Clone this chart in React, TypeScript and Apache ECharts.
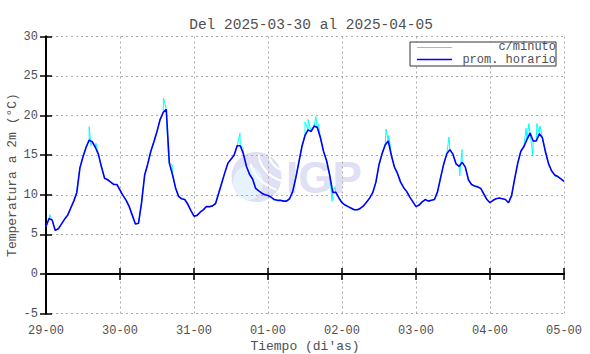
import React, { useEffect, useRef } from "react";
import * as echarts from "echarts";

const titleText = "Del 2025-03-30 al 2025-04-05";
const dayLabels = ["29-00", "30-00", "31-00", "01-00", "02-00", "03-00", "04-00", "05-00"];
const yTicks = [-5, 0, 5, 10, 15, 20, 25, 30];

// hourly average temperature, hour 0 = 29-00
const hourly = [
  6.0, 7.0, 6.8, 5.5, 5.7, 6.3, 6.9, 7.4, 8.3, 9.2,
  10.3, 13.4, 14.8, 16.0, 16.9, 16.7, 16.0, 15.1, 13.5, 12.1,
  11.9, 11.6, 11.3, 11.3, 10.6, 9.9, 9.3, 8.5, 7.4, 6.3,
  6.4, 9.0, 12.5, 13.9, 15.5, 16.7, 18.0, 19.5, 20.4, 20.8,
  14.0, 12.6, 10.9, 9.8, 9.5, 9.4, 8.8, 8.0, 7.3, 7.4,
  7.8, 8.1, 8.5, 8.5, 8.6, 8.9, 10.2, 11.5, 12.8, 14.0,
  14.5, 15.0, 16.2, 16.2, 15.2, 13.6, 12.6, 12.0, 10.8, 10.5,
  10.2, 10.0, 9.9, 9.7, 9.4, 9.3, 9.3, 9.2, 9.2, 9.5,
  10.4, 12.1, 14.1, 16.1, 17.5, 18.2, 18.0, 18.7, 18.5, 17.2,
  15.5, 14.3, 12.5, 10.3, 10.3, 9.6, 9.0, 8.7, 8.5, 8.3,
  8.1, 8.1, 8.3, 8.6, 9.1, 9.6, 10.3, 11.6, 13.8, 15.2,
  16.3, 16.8, 15.0, 13.5, 12.7, 11.6, 10.9, 10.4, 9.7, 9.1,
  8.5, 8.7, 9.1, 9.4, 9.2, 9.3, 9.4, 10.4, 12.2, 13.9,
  15.2, 15.7, 15.1, 13.9, 13.6, 14.1, 13.5, 11.9, 11.3, 11.1,
  11.0, 10.8, 10.1, 9.4, 9.0, 9.3, 9.5, 9.6, 9.5, 9.4,
  9.0, 9.9, 12.0, 14.0, 15.5, 16.1, 17.0, 17.8, 16.8, 16.8,
  17.7, 17.2, 15.4, 13.9, 13.0, 12.5, 12.3, 12.0, 11.7,
];

// per-minute readings that stand out from the hourly average: [hour, value]
const minuteSpikes = [
  [1.2, 7.5], [10.2, 11.2], [14.0, 18.6], [14.6, 16.2], [16.2, 16.5],
  [38.1, 22.2], [38.6, 21.5], [39.6, 15.5], [40.9, 13.8],
  [62.9, 17.8], [63.9, 16.0],
  [84.0, 19.2], [85.0, 19.5], [86.3, 18.4], [87.5, 19.9], [88.4, 18.9],
  [92.8, 9.2], [93.7, 11.0],
  [110.3, 18.3], [111.2, 17.5],
  [130.7, 17.3], [134.2, 12.4], [134.9, 15.7],
  [155.7, 18.4], [156.6, 19.0], [157.9, 15.0], [159.2, 19.0], [160.2, 18.7],
  [165.1, 12.3],
];

const FONT = "Liberation Mono";
const TXT = "#505050";

export default function App() {
  const ref = useRef<HTMLDivElement>(null);
  useEffect(() => {
    if (!ref.current) return;
    const chart = echarts.init(ref.current, null, { renderer: "svg" });
    const hourlyData = hourly.map((v, i) => [i, v]);
    const minuteData = [...hourlyData, ...minuteSpikes].sort((a, b) => a[0] - b[0]);

    const axisLine = { show: true, lineStyle: { color: "#000", width: 2 } };
    const tick = { show: true, inside: true, length: 6, lineStyle: { color: "#000", width: 1.5 } };

    chart.setOption({
      animation: false,
      backgroundColor: "#fff",
      title: {
        text: titleText,
        left: 306,
        textAlign: "center",
        top: 12,
        textStyle: { fontFamily: FONT, fontSize: 14.5, fontWeight: "normal", color: TXT },
      },
      grid: { left: 46, right: 26, top: 36.5, bottom: 40.5, containLabel: false, outerBoundsMode: "none" },
      xAxis: [
        {
          type: "value",
          min: 0,
          max: 168,
          interval: 24,
          position: "bottom",
          axisLine,
          axisTick: tick,
          axisLabel: {
            margin: 11,
            fontFamily: FONT,
            fontSize: 12,
            color: TXT,
            formatter: (v: number) => dayLabels[Math.round(v / 24)] ?? "",
          },
          splitLine: { show: true, lineStyle: { color: "#aaa", type: [2, 3], width: 1 } },
          name: "Tiempo (di'as)",
          nameLocation: "middle",
          nameGap: 25.5,
          nameMoveOverlap: false,
          nameTextStyle: { fontFamily: FONT, fontSize: 13, lineHeight: 14, color: TXT },
        },
        {
          type: "value",
          min: 0,
          max: 168,
          interval: 24,
          position: "top",
          axisLine,
          axisTick: tick,
          axisLabel: { show: false },
          splitLine: { show: false },
        },
      ],
      yAxis: [
        {
          type: "value",
          min: yTicks[0],
          max: yTicks[yTicks.length - 1],
          interval: 5,
          position: "left",
          axisLine,
          axisTick: tick,
          axisLabel: { margin: 8, fontFamily: FONT, fontSize: 12, color: TXT },
          splitLine: { show: true, lineStyle: { color: "#aaa", type: [2, 3], width: 1 } },
          name: "Temperatura a 2m (°C)",
          nameLocation: "middle",
          nameRotate: 90,
          nameGap: 27,
          nameMoveOverlap: false,
          nameTextStyle: { fontFamily: FONT, fontSize: 13, lineHeight: 14, color: TXT },
        },
        {
          type: "value",
          min: yTicks[0],
          max: yTicks[yTicks.length - 1],
          interval: 5,
          position: "right",
          axisLine,
          axisTick: tick,
          axisLabel: { show: false },
          splitLine: { show: false },
        },
      ],
      series: [
        {
          name: "c/minuto",
          type: "line",
          data: minuteData,
          showSymbol: false,
          lineStyle: { color: "#00ffff", width: 1 },
          itemStyle: { color: "#00ffff" },
          z: 3,
        },
        {
          name: "prom. horario",
          type: "line",
          data: hourlyData,
          showSymbol: false,
          lineStyle: { color: "#0000ff", width: 1.6 },
          itemStyle: { color: "#0000ff" },
          z: 4,
        },
      ],
      graphic: [
        // watermark logo
        { type: "circle", z: -10, shape: { cx: 256.5, cy: 177, r: 25 }, style: { fill: "#dfe0f3" }, silent: true },
        { type: "ellipse", z: -9, shape: { cx: 248, cy: 183, rx: 15, ry: 17 }, style: { fill: "#e7f3fc" }, silent: true },
        { type: "arc", z: -8, shape: { cx: 290, cy: 150, r: 22, startAngle: 1.9, endAngle: 3.0 }, style: { stroke: "#fff", lineWidth: 2, fill: "none" }, silent: true },
        { type: "arc", z: -8, shape: { cx: 290, cy: 150, r: 32, startAngle: 1.85, endAngle: 3.0 }, style: { stroke: "#fff", lineWidth: 2, fill: "none" }, silent: true },
        { type: "arc", z: -8, shape: { cx: 290, cy: 150, r: 42, startAngle: 1.9, endAngle: 2.8 }, style: { stroke: "#fff", lineWidth: 2, fill: "none" }, silent: true },
        {
          type: "text",
          z: -8,
          x: 286,
          y: 177,
          silent: true,
          style: { text: "IGP", fontFamily: "Liberation Sans", fontWeight: "bold", fontSize: 44, fill: "#e0e0f4", verticalAlign: "middle" },
        },
        // legend
        { type: "rect", z: 20, shape: { x: 410, y: 42, width: 146, height: 24 }, style: { fill: "#fff", stroke: "#333", lineWidth: 1 } },
        { type: "line", z: 21, shape: { x1: 417, y1: 47.5, x2: 452, y2: 47.5 }, style: { stroke: "#00ffff", lineWidth: 1 } },
        { type: "line", z: 21, shape: { x1: 417, y1: 59.5, x2: 452, y2: 59.5 }, style: { stroke: "#0000ff", lineWidth: 1.5 } },
        { type: "text", z: 21, x: 556, y: 47, style: { text: "c/minuto", fontFamily: FONT, fontSize: 12, lineHeight: 12, fill: TXT, align: "right", verticalAlign: "middle" } },
        { type: "text", z: 21, x: 556, y: 60, style: { text: "prom. horario", fontFamily: FONT, fontSize: 12, lineHeight: 12, fill: TXT, align: "right", verticalAlign: "middle" } },
      ],
    });
    return () => chart.dispose();
  }, []);
  return <div ref={ref} style={{ width: 590, height: 354, position: "absolute", left: 0, top: 0 }} />;
}
